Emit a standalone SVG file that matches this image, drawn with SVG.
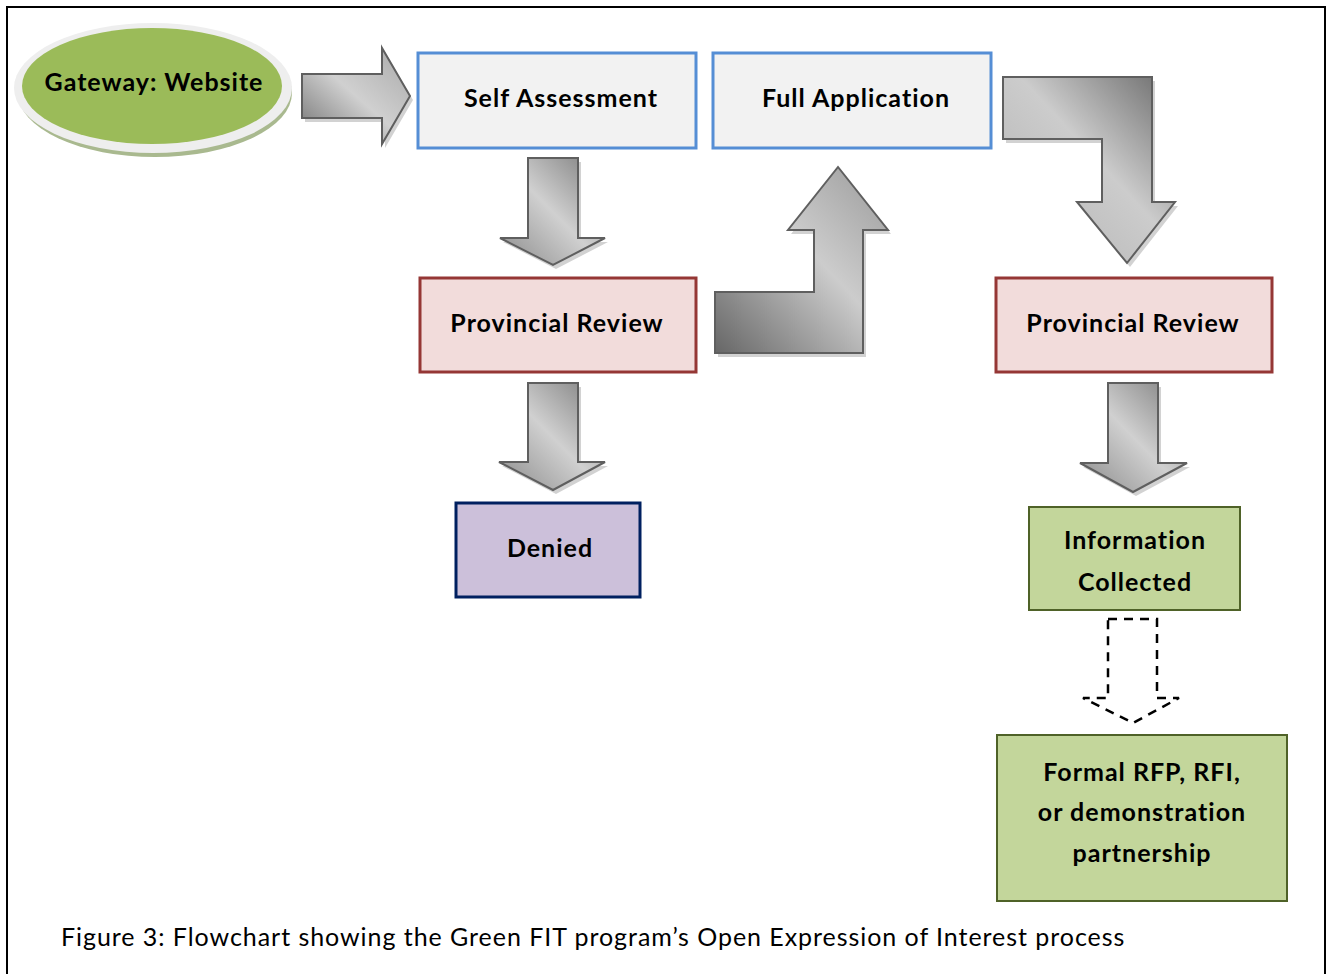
<svg xmlns="http://www.w3.org/2000/svg" width="1328" height="974" viewBox="0 0 1328 974">
<style>
.lbl{font-family:Lato,"Liberation Sans",sans-serif;font-weight:bold;font-size:25px;letter-spacing:1px;fill:#000;text-anchor:middle}
.cap{font-family:Lato,"Liberation Sans",sans-serif;font-size:25px;letter-spacing:0.95px;fill:#000}
.arr{stroke:#5f5f5f;stroke-width:2;stroke-linejoin:miter}
.sh{fill:#bfbfbf;opacity:0.7}
.blue{fill:#F2F2F2;stroke:#558ED5;stroke-width:3}
.red{fill:#F2DCDB;stroke:#953735;stroke-width:3}
.grn{fill:#C3D69B;stroke:#4F6228;stroke-width:2}
</style>
<defs>
<linearGradient id="gR" x1="0" y1="1" x2="1" y2="0">
<stop offset="0" stop-color="#6e6e6e"/><stop offset="0.5" stop-color="#d0d0d0"/><stop offset="1" stop-color="#a8a8a8"/>
</linearGradient>
<linearGradient id="gD" x1="1" y1="0" x2="0" y2="1">
<stop offset="0" stop-color="#7a7a7a"/><stop offset="0.5" stop-color="#d0d0d0"/><stop offset="1" stop-color="#8a8a8a"/>
</linearGradient>
<linearGradient id="gU" x1="0" y1="1" x2="1" y2="0">
<stop offset="0" stop-color="#666"/><stop offset="0.55" stop-color="#cccccc"/><stop offset="1" stop-color="#9a9a9a"/>
</linearGradient>
<linearGradient id="gL" x1="1" y1="0" x2="0" y2="1">
<stop offset="0" stop-color="#6a6a6a"/><stop offset="0.45" stop-color="#cccccc"/><stop offset="1" stop-color="#b0b0b0"/>
</linearGradient>
<path id="pR" d="M302,74 L382,74 L382,48 L410,96 L382,144 L382,118 L302,118 Z"/>
<path id="pD1" d="M528,158 L578,158 L578,238 L605,238 L553,265 L500,238 L528,238 Z"/>
<path id="pD2" d="M528,383 L578,383 L578,462 L605,462 L553,490 L499,462 L528,462 Z"/>
<path id="pD3" d="M1108,383 L1158,383 L1158,463 L1187,463 L1133,492 L1080,463 L1108,463 Z"/>
<path id="pU" d="M715,292 L814,292 L814,230 L788,230 L838,167 L888,230 L863,230 L863,353 L715,353 Z"/>
<path id="pL" d="M1003,77 L1152,77 L1152,202 L1175,202 L1127,263 L1077,202 L1102,202 L1102,139 L1003,139 Z"/>
</defs>
<rect x="7" y="7" width="1318" height="975" fill="#fff" stroke="#000" stroke-width="2"/>
<g id="connectors">
<use href="#pR" class="sh" transform="translate(3,4)"/><use href="#pR" class="arr" fill="url(#gR)"/>
<use href="#pD1" class="sh" transform="translate(3,4)"/><use href="#pD1" class="arr" fill="url(#gD)"/>
<use href="#pD2" class="sh" transform="translate(3,4)"/><use href="#pD2" class="arr" fill="url(#gD)"/>
<use href="#pD3" class="sh" transform="translate(3,4)"/><use href="#pD3" class="arr" fill="url(#gD)"/>
<use href="#pU" class="sh" transform="translate(3,4)"/><use href="#pU" class="arr" fill="url(#gU)"/>
<use href="#pL" class="sh" transform="translate(3,4)"/><use href="#pL" class="arr" fill="url(#gL)"/>
<path d="M1108,619 L1157,619 L1157,698 L1179,698 L1133,723 L1083,698 L1108,698 Z" fill="none" stroke="#000" stroke-width="2.5" stroke-dasharray="9,7"/>
</g>
<g id="gateway">
<ellipse cx="155" cy="93" rx="137" ry="64" fill="#a9b98f"/>
<ellipse cx="153" cy="88" rx="139" ry="65" fill="#eeeeee"/>
<ellipse cx="152" cy="86" rx="130" ry="58" fill="#9BBB59"/>
<text x="154" y="91" class="lbl">Gateway: Website</text>
</g>
<g id="self-assessment">
<rect x="418" y="53" width="278" height="95" class="blue"/>
<text x="561" y="107" class="lbl">Self Assessment</text>
</g>
<g id="full-application">
<rect x="713" y="53" width="278" height="95" class="blue"/>
<text x="856" y="107" class="lbl">Full Application</text>
</g>
<g id="provincial-review-1">
<rect x="420" y="278" width="276" height="94" class="red"/>
<text x="557" y="332" class="lbl">Provincial Review</text>
</g>
<g id="provincial-review-2">
<rect x="996" y="278" width="276" height="94" class="red"/>
<text x="1133" y="332" class="lbl">Provincial Review</text>
</g>
<g id="denied">
<rect x="456" y="503" width="184" height="94" fill="#CCC0DA" stroke="#002060" stroke-width="3"/>
<text x="550" y="557" class="lbl">Denied</text>
</g>
<g id="information-collected">
<rect x="1029" y="507" width="211" height="103" class="grn"/>
<text x="1135" y="549" class="lbl">Information</text>
<text x="1135" y="591" class="lbl">Collected</text>
</g>
<g id="formal-rfp">
<rect x="997" y="735" width="290" height="166" class="grn"/>
<text x="1142" y="781" class="lbl">Formal RFP, RFI,</text>
<text x="1142" y="821" class="lbl">or demonstration</text>
<text x="1142" y="862" class="lbl">partnership</text>
</g>
<text x="61" y="946" class="cap">Figure 3: Flowchart showing the Green FIT program’s Open Expression of Interest process</text>
</svg>
